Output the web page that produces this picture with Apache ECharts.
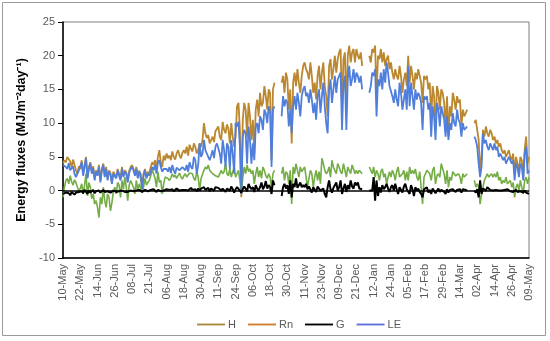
<!DOCTYPE html>
<html><head><meta charset="utf-8">
<script src="https://cdn.jsdelivr.net/npm/echarts@6/dist/echarts.min.js"></script>
<style>html,body{margin:0;padding:0;background:#fff}#c{width:550px;height:341px}</style>
</head><body><div id="c"></div>
<script>
// Tick labels, one every 12 days (categories)
const tickLabels = ['10-May','22-May','14-Jun','26-Jun','08-Jul','21-Jul','06-Aug','18-Aug','30-Aug','11-Sep','24-Sep','06-Oct','18-Oct','30-Oct','11-Nov','23-Nov','09-Dec','21-Dec','12-Jan','24-Jan','05-Feb','17-Feb','29-Feb','14-Mar','02-Apr','14-Apr','26-Apr','09-May'];
const labelStep = 12;

const Rn = [
4.0,4.5,4.2,5.0,4.8,4.3,3.5,4.6,3.8,3.0,2.5,3.6,
3.2,4.5,2.5,3.8,5.0,2.0,3.5,4.2,2.8,3.6,1.8,3.0,
2.5,3.8,1.5,3.2,4.0,2.2,3.5,1.8,3.0,2.6,1.2,2.8,
2.8,2.0,3.2,2.5,1.8,3.5,2.2,3.0,2.7,1.5,2.9,3.5,
3.8,3.2,2.5,3.5,2.0,3.0,2.8,0.5,2.5,3.2,2.0,2.8,
2.5,3.5,4.2,3.8,4.5,3.2,5.0,6.0,4.2,3.5,5.2,4.5,
5.5,4.8,5.2,4.5,5.8,5.0,4.6,5.5,6.0,5.2,4.8,5.6,
6.0,5.5,6.5,5.2,6.8,6.2,5.8,7.0,6.5,5.5,6.0,7.0,
6.5,7.5,10.0,8.5,7.8,8.2,7.0,7.5,8.0,7.2,8.8,9.0,
9.5,8.0,7.5,10.2,9.0,8.5,9.8,9.2,7.0,10.0,8.0,6.5,
8.0,12.5,13.0,9.0,-1.0,10.5,13.0,12.0,8.0,13.0,11.0,7.5,
10.5,5.5,12.0,13.5,11.0,14.5,12.5,13.0,15.5,14.0,12.0,15.0,
14.5,4.5,15.0,16.0,null,null,null,null,16.0,17.0,14.5,17.5,
16.5,12.0,15.0,7.0,16.0,17.5,15.5,18.0,16.0,14.5,17.0,18.5,
19.0,18.0,17.5,16.5,19.0,17.0,14.5,16.0,13.5,17.0,18.5,15.0,
17.5,19.0,15.5,14.0,11.0,18.5,19.5,16.5,18.0,20.0,17.5,19.5,
20.5,21.0,12.0,19.5,20.5,11.5,20.0,21.5,19.0,20.5,21.0,19.0,
21.0,20.0,19.5,20.5,18.5,null,null,null,null,20.0,19.0,21.0,
20.5,21.5,14.0,20.0,19.5,21.0,19.0,20.5,18.5,19.5,20.0,18.0,
19.0,17.5,16.5,18.0,17.0,16.5,18.5,17.0,14.5,16.5,17.5,15.5,
20.0,16.0,18.5,17.0,15.0,17.5,16.5,18.0,17.0,16.0,13.0,17.0,
16.5,17.0,15.0,16.0,10.5,15.5,14.0,9.0,15.5,14.5,12.0,15.0,
14.5,13.0,9.5,14.0,8.0,12.5,11.0,14.5,13.5,12.0,14.0,13.0,
13.5,9.5,12.0,11.0,11.5,12.0,null,null,null,null,10.0,10.5,
9.0,7.5,3.0,5.0,9.0,8.0,9.5,8.5,8.0,9.0,8.5,7.5,
8.0,7.0,7.5,6.5,7.0,6.0,5.5,6.0,5.0,5.5,6.0,5.0,
4.5,5.5,2.5,5.0,4.0,3.0,5.0,4.5,2.0,6.0,8.0,4.0,5.0];

const LE = [
3.8,4.0,3.5,3.2,4.1,3.0,2.8,3.6,2.5,2.0,1.8,3.0,
3.0,4.2,2.2,3.5,4.8,1.8,3.2,4.0,2.5,3.3,1.5,2.8,
2.2,3.5,1.2,3.0,3.8,2.0,3.2,1.5,2.8,2.4,1.0,2.5,
2.5,1.8,3.0,2.2,1.5,3.2,2.0,2.8,2.5,1.2,2.6,3.2,
3.5,3.0,2.2,3.2,1.8,2.8,2.5,0.2,2.2,3.0,1.8,2.5,
2.2,2.8,3.5,3.0,3.8,2.5,4.2,4.5,3.5,2.8,3.2,3.0,
3.2,2.8,3.5,2.6,3.8,3.0,2.5,3.4,3.6,3.0,2.8,3.5,
3.5,3.0,3.8,2.8,4.2,3.5,3.2,5.0,4.5,2.5,3.8,7.0,
5.0,5.5,7.5,6.0,5.5,5.0,4.5,5.2,6.0,4.8,6.5,7.0,
7.0,5.5,4.0,7.5,6.0,3.5,7.0,6.5,3.2,7.5,5.5,2.5,
10.0,9.5,10.2,6.5,-0.5,8.0,9.0,8.5,4.0,9.5,7.5,4.0,
7.0,4.5,9.5,10.0,8.5,11.0,10.5,9.0,12.0,11.5,10.0,12.5,
11.5,3.5,12.0,12.5,null,null,null,null,11.0,14.0,12.5,13.5,
13.0,9.5,12.0,8.5,12.5,14.0,12.0,14.5,13.0,11.0,14.0,15.0,
15.5,14.0,14.5,13.0,15.0,13.5,11.5,13.0,10.5,14.0,15.0,11.5,
14.0,16.0,12.5,10.0,8.5,15.0,16.5,13.0,15.0,17.0,14.5,16.5,
17.0,17.5,9.0,16.0,17.0,9.0,16.5,18.5,15.5,16.5,18.0,16.0,
17.5,17.0,16.0,17.0,15.0,null,null,null,null,14.5,15.5,17.5,
17.0,18.0,11.0,16.5,15.5,17.5,15.0,18.0,16.0,19.0,17.5,15.5,
15.5,14.0,13.0,15.0,13.5,12.5,16.0,14.5,12.0,13.5,15.0,12.0,
18.5,12.5,16.0,14.0,12.0,15.0,13.5,14.5,14.0,13.0,9.0,14.0,
13.5,14.0,12.0,13.0,8.0,12.5,11.0,7.5,13.0,12.0,9.5,12.5,
11.5,10.5,8.0,11.0,7.5,10.0,9.0,11.5,10.0,9.5,12.0,10.5,
10.0,8.0,10.0,9.0,9.2,9.5,null,null,null,null,8.0,7.5,
6.5,4.0,2.0,3.5,8.5,7.0,7.5,6.5,6.0,7.0,6.5,6.0,
7.0,6.0,6.5,5.0,5.5,5.0,4.5,5.0,4.0,4.5,5.0,4.5,
4.0,4.5,1.5,4.0,3.5,2.0,4.0,3.5,1.5,5.5,6.5,2.5,3.0];

const H = [
-1.0,0.5,1.5,1.8,1.0,2.2,1.3,0.8,1.6,1.2,0.5,0.0,
0.3,1.0,-0.5,0.8,2.5,-0.8,1.2,0.5,-1.2,-0.5,-2.0,-1.5,
-2.5,-4.0,-1.0,-2.0,0.5,-1.5,-2.5,-0.5,-1.0,-3.0,-1.8,-0.2,
0.5,-0.5,1.2,0.8,-1.0,1.5,0.2,2.0,0.5,-1.5,0.8,1.5,
1.0,0.5,-0.5,1.5,0.0,1.0,1.2,-0.3,0.5,1.8,0.8,1.2,
1.5,2.2,3.0,2.5,1.8,0.5,2.8,1.2,1.5,-0.5,1.0,2.0,
2.2,1.8,1.5,1.9,2.5,2.0,2.3,1.8,2.2,2.6,2.0,1.7,
2.2,2.5,2.0,2.2,2.6,2.4,2.5,1.8,1.5,2.8,2.0,0.0,
1.8,2.0,3.0,3.5,3.2,3.8,3.0,2.8,2.5,2.6,2.2,2.0,
2.0,2.2,3.0,2.5,2.8,4.0,2.5,2.2,3.2,2.0,1.8,3.5,
2.0,2.5,3.0,1.5,-0.5,2.0,3.5,2.5,3.8,2.8,3.2,2.5,
3.0,1.0,2.5,3.5,2.0,3.0,1.8,3.5,3.0,2.2,1.8,2.5,
2.0,0.5,2.5,3.0,null,null,null,null,2.5,3.5,1.5,2.8,
2.5,1.0,3.0,-2.0,3.5,2.5,4.0,3.0,2.0,3.5,2.8,3.0,
3.5,2.0,0.5,1.8,3.0,2.5,0.5,2.0,3.0,1.5,2.8,1.0,
4.8,4.0,3.0,2.5,2.8,3.5,2.0,4.5,3.5,3.0,2.5,4.0,
3.5,2.8,2.5,4.0,3.0,2.0,3.5,3.0,2.5,3.8,3.2,2.5,
3.0,2.5,3.0,2.8,2.5,null,null,null,null,3.5,3.0,2.5,
3.5,2.0,3.0,2.5,1.5,2.8,3.2,2.0,2.5,1.0,2.0,2.8,
2.0,3.0,2.5,1.5,2.8,3.5,2.0,1.8,2.5,3.0,1.5,2.8,
1.5,3.5,2.5,3.0,2.5,3.2,2.0,1.5,2.8,0.5,-2.0,2.0,
2.5,3.0,2.8,2.5,1.5,3.0,3.5,1.0,2.2,2.5,2.0,4.0,
4.0,2.5,1.0,3.0,0.5,2.0,1.5,2.8,3.0,2.2,2.0,2.5,
2.0,1.0,2.5,2.0,2.2,2.5,null,null,null,null,1.5,0.5,
1.0,0.5,-2.0,-0.5,0.5,1.5,2.0,2.5,2.0,2.2,2.5,2.0,
2.5,2.0,2.8,1.5,2.0,1.0,1.5,1.2,2.0,1.0,0.8,1.5,
0.5,1.2,-1.0,0.5,1.0,0.0,1.5,0.5,-0.5,1.5,2.0,1.0,2.0];

const G = [
-0.5,-0.6,-0.3,-0.5,-0.4,-0.7,-0.2,-0.4,-0.6,-0.3,-0.5,-0.2,
-0.3,-0.1,-0.4,0.1,-0.2,-0.5,0.0,-0.3,-0.2,0.1,-0.4,-0.1,
-0.2,0.0,-0.3,-0.1,0.1,-0.2,-0.4,-0.1,0.0,-0.3,-0.2,0.0,
-0.1,-0.2,0.0,-0.1,-0.3,0.0,-0.1,-0.2,0.0,-0.2,-0.1,0.0,
0.0,-0.1,-0.2,0.0,-0.1,0.1,0.0,-0.2,0.0,0.1,0.0,-0.1,
0.0,0.1,-0.1,0.2,0.0,-0.2,0.1,0.2,-0.1,-0.3,0.0,0.1,
0.2,0.0,0.1,0.0,0.2,-0.1,0.0,0.3,0.1,0.0,0.2,0.1,
0.2,0.1,0.3,0.0,0.2,0.4,0.1,0.3,0.2,-0.1,0.3,0.0,
0.3,0.2,0.5,0.1,0.2,0.4,-0.1,0.3,0.2,0.0,0.5,0.3,
0.4,0.2,0.0,0.3,0.5,-0.2,0.3,0.4,0.0,0.6,0.2,-0.3,
0.2,0.5,0.3,0.0,-0.3,0.2,0.6,0.4,-0.1,1.0,0.5,0.2,
0.5,-0.2,0.8,0.3,0.0,0.5,1.2,0.2,0.6,1.4,0.3,0.8,
0.5,-0.5,1.5,0.8,null,null,null,null,-0.8,0.5,1.0,0.3,
0.8,-0.5,1.5,-1.0,1.0,0.5,1.8,0.4,0.2,1.2,0.5,0.8,
0.5,1.0,0.2,0.6,0.8,-0.3,0.5,0.7,-0.2,0.6,0.3,0.0,
0.0,0.3,-0.5,-1.0,0.5,1.5,0.2,-0.3,0.4,0.8,1.2,0.0,
0.5,1.5,-0.5,0.3,1.0,-0.2,0.8,0.2,1.5,0.6,0.3,1.2,
0.8,1.2,0.3,0.5,0.2,null,null,null,null,0.0,0.0,0.0,
2.0,-1.5,1.5,-0.8,0.5,-0.3,0.8,0.2,0.5,1.0,0.3,-0.2,
0.5,0.8,0.0,1.0,0.2,-0.5,0.5,0.3,-0.3,0.6,1.0,0.2,
0.3,-0.5,0.8,0.2,-0.8,0.5,0.0,0.3,-0.2,-0.5,-1.0,0.2,
0.2,0.5,-0.3,0.1,-0.5,0.3,0.2,-0.4,0.0,0.3,-0.2,0.1,
0.3,-0.2,-0.5,0.2,-0.3,0.1,0.0,0.2,0.0,-0.2,0.1,0.0,
0.2,-0.3,0.2,0.0,0.1,0.0,null,null,null,null,0.0,-0.3,
0.2,-1.0,1.5,-0.5,0.3,0.2,0.0,0.5,0.3,0.1,0.2,0.0,
0.0,0.1,0.0,0.0,-0.1,0.0,0.0,0.1,0.0,0.2,0.0,-0.1,
0.0,-0.2,0.0,0.1,-0.2,0.0,-0.1,0.0,-0.3,0.0,-0.3,-0.5,-0.5];

const yTicks = { min: -10, max: 25, step: 5 };

const categories = Rn.map((_, i) => String(i));

const chart = echarts.init(document.getElementById('c'), null, { renderer: 'canvas' });
const lineSeries = (name, data, color, w, z) => ({
  name, type: 'line', data, symbol: 'none', connectNulls: false,
  lineStyle: { color, width: w }, itemStyle: { color }, z, animation: false
});
const g = lineSeries('G', G, '#000000', 2, 5);
g.markLine = { silent: true, symbol: 'none', animation: false,
  label: { show: false }, data: [{ yAxis: 0 }],
  lineStyle: { color: '#000000', width: 1.5, type: 'solid' } };

chart.setOption({
  animation: false,
  backgroundColor: '#ffffff',
  graphic: [{ type: 'rect', shape: { x: 2.5, y: 2.5, width: 543, height: 333 },
    style: { fill: 'none', stroke: '#9a9a9a', lineWidth: 1 }, silent: true, z: -1 }],
  grid: { left: 63, right: 21, top: 22, bottom: 83, show: true, borderColor: '#7f7f7f', borderWidth: 1 },
  legend: {
    top: 314, left: 192, itemWidth: 28, itemGap: 12, icon: 'path://M0,0L30,0L30,2L0,2Z',
    itemHeight: 2,
    textStyle: { color: '#595959', fontSize: 11, fontFamily: 'Liberation Sans, Arial', padding: [0, 0, 0, -2] },
    data: [
      { name: 'H', itemStyle: { color: '#a8893e' } },
      { name: 'Rn', itemStyle: { color: '#d07e2c' } },
      { name: 'G', itemStyle: { color: '#000000' } },
      { name: 'LE', itemStyle: { color: '#5f6fd8' } }
    ]
  },
  xAxis: {
    type: 'category', data: categories, boundaryGap: false,
    axisLine: { onZero: false, lineStyle: { color: '#000', width: 1.5 } },
    axisTick: { show: false },
    axisLabel: { interval: labelStep - 1, rotate: 90, color: '#595959', fontSize: 11,
      fontFamily: 'Liberation Sans, Arial', margin: 6,
      formatter: (v) => tickLabels[Math.round(Number(v) / labelStep)] || '' },
    splitLine: { show: false }
  },
  yAxis: {
    type: 'value', min: yTicks.min, max: yTicks.max, interval: yTicks.step,
    name: 'Energy fluxes (MJ/m\u207B\u00B2day\u207B\u00B9)', nameLocation: 'middle', nameGap: 32,
    nameTextStyle: { color: '#000', fontWeight: 'bold', fontSize: 12.5, fontFamily: 'Liberation Sans, Arial' },
    axisLine: { show: true, lineStyle: { color: '#000', width: 1.5 } },
    axisTick: { show: true, length: 5, lineStyle: { color: '#000' } },
    axisLabel: { color: '#595959', fontSize: 11, fontFamily: 'Liberation Sans, Arial', margin: 8 },
    splitLine: { show: false }
  },
  series: [
    lineSeries('Rn', Rn, '#bb872f', 1.8, 2),
    lineSeries('H', H, '#74ac45', 1.6, 3),
    lineSeries('LE', LE, '#4f7edb', 1.8, 4),
    g
  ]
});
</script></body></html>
